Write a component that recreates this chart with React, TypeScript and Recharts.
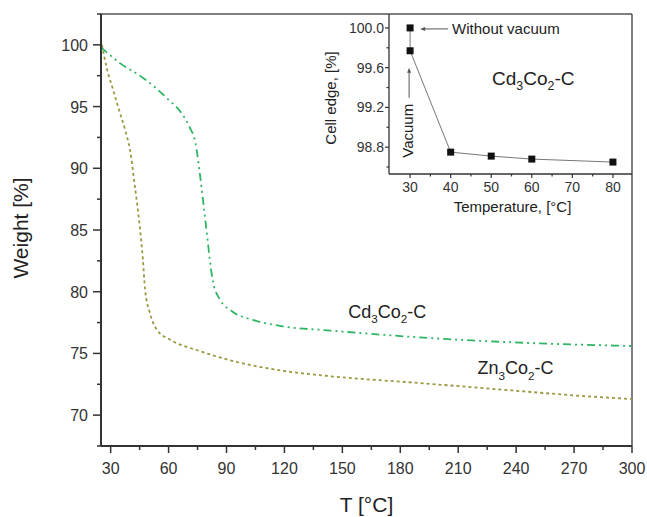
import React from 'react';
import { LineChart, Line, XAxis, YAxis, ReferenceLine, ReferenceDot } from 'recharts';

// Cd3Co2-C weight loss curve
const cdTemp = [25, 35, 47, 59, 67, 71, 74, 76, 78, 80, 81.5, 83, 86.5, 93, 104, 119, 144, 190, 238, 300];
const cdWeight = [99.8, 98.5, 97.3, 95.7, 94.4, 93.3, 92.0, 89.8, 87.2, 84.5, 82.4, 80.8, 79.4, 78.4, 77.7, 77.2, 76.85, 76.3, 75.9, 75.6];

// Zn3Co2-C weight loss curve
const znTemp = [25.5, 28, 31, 34, 37.5, 40, 42.5, 45, 46.7, 47.8, 50.3, 54, 61, 76, 93, 119, 144, 190, 238, 270, 300];
const znWeight = [100.0, 98.1, 96.5, 94.9, 93.1, 91.5, 88.6, 85.4, 82.6, 80.2, 78.3, 76.9, 76.1, 75.2, 74.4, 73.6, 73.15, 72.6, 72.0, 71.6, 71.3];

// inset: cell edge vs temperature
const insetTemp = [30, 30, 40, 50, 60, 80];
const insetEdge = [100.0, 99.77, 98.75, 98.71, 98.68, 98.65];

const xTicks = [30, 45, 60, 75, 90, 105, 120, 135, 150, 165, 180, 195, 210, 225, 240, 255, 270, 285, 300];
const yTicks = [67.5, 70, 72.5, 75, 77.5, 80, 82.5, 85, 87.5, 90, 92.5, 95, 97.5, 100, 102.5];
const insetXTicks = [30, 35, 40, 45, 50, 55, 60, 65, 70, 75, 80];
const insetYTicks = [98.6, 98.8, 99.0, 99.2, 99.4, 99.6, 99.8, 100.0];

const cdData = cdTemp.map((t, i) => ({ t, w: cdWeight[i] }));
const znData = znTemp.map((t, i) => ({ t, w: znWeight[i] }));
const insetData = insetTemp.map((t, i) => ({ t, v: insetEdge[i] }));

const FONT = '"Liberation Sans", Arial, sans-serif';
const INK = '#333';

const MainXTick = (props: any) => {
  const { x, y, payload } = props;
  const major = payload.value % 30 === 0;
  return (
    <g>
      <line x1={x} x2={x} y1={y} y2={y + (major ? 7 : 4)} stroke={INK} strokeWidth={1.5} />
      {major && (
        <text x={x} y={y + 28} textAnchor="middle" fontSize={16} fill={INK} fontFamily={FONT}>
          {payload.value}
        </text>
      )}
    </g>
  );
};

const MainYTick = (props: any) => {
  const { x, y, payload } = props;
  const major = payload.value % 5 === 0;
  return (
    <g>
      <line x1={x} x2={x - (major ? 8 : 4)} y1={y} y2={y} stroke={INK} strokeWidth={1.5} />
      {major && (
        <text x={x - 13} y={y + 6} textAnchor="end" fontSize={16} fill={INK} fontFamily={FONT}>
          {payload.value}
        </text>
      )}
    </g>
  );
};

const InsetXTick = (props: any) => {
  const { x, y, payload } = props;
  const major = payload.value % 10 === 0;
  return (
    <g>
      <line x1={x} x2={x} y1={y} y2={y + (major ? 4 : 2.5)} stroke={INK} strokeWidth={1.2} />
      {major && (
        <text x={x} y={y + 18} textAnchor="middle" fontSize={14} fill={INK} fontFamily={FONT}>
          {payload.value}
        </text>
      )}
    </g>
  );
};

const InsetYTick = (props: any) => {
  const { x, y, payload } = props;
  const major = Math.round(payload.value * 10) % 4 === 0;
  return (
    <g>
      <line x1={x} x2={x - (major ? 4 : 2.5)} y1={y} y2={y} stroke={INK} strokeWidth={1.2} />
      {major && (
        <text x={x - 5} y={y + 5} textAnchor="end" fontSize={14} fill={INK} fontFamily={FONT}>
          {payload.value.toFixed(1)}
        </text>
      )}
    </g>
  );
};

const Formula = ({ x, y, a, size }: { x: number; y: number; a: string; size: number }) => (
  <text x={x} y={y} fontSize={size} fill="#222" fontFamily={FONT}>
    {a}
    <tspan fontSize={size * 0.65} dy={size * 0.3}>3</tspan>
    <tspan dy={-size * 0.3}>Co</tspan>
    <tspan fontSize={size * 0.65} dy={size * 0.3}>2</tspan>
    <tspan dy={-size * 0.3}>-C</tspan>
  </text>
);

const SquareDot = (p: any) => (
  <rect key={`sq-${p.index}`} x={p.cx - 3.5} y={p.cy - 3.5} width={7} height={7} fill="#111" />
);

export default function App() {
  return (
    <div style={{ position: 'absolute', left: 0, top: 0, width: 647, height: 517, background: '#fff', fontFamily: FONT }}>
      <LineChart width={647} height={517} margin={{ top: 14, right: 15, left: 41, bottom: 41 }}>
        <XAxis
          dataKey="t"
          type="number"
          domain={[25, 300]}
          ticks={xTicks}
          interval={0}
          height={30}
          tickSize={0}
          tickMargin={0}
          tickLine={false}
          tick={<MainXTick />}
          axisLine={{ stroke: INK, strokeWidth: 2 }}
          label={{
            content: (p: any) => (
              <text
                x={p.viewBox.x + p.viewBox.width / 2}
                y={p.viewBox.y + 66}
                textAnchor="middle"
                fontSize={21}
                fill="#222"
                fontFamily={FONT}
              >
                T [°C]
              </text>
            ),
          }}
        />
        <YAxis
          type="number"
          domain={[67.5, 102.5]}
          ticks={yTicks}
          interval={0}
          width={60}
          tickSize={0}
          tickMargin={0}
          tickLine={false}
          tick={<MainYTick />}
          axisLine={{ stroke: INK, strokeWidth: 2 }}
          label={{
            content: (p: any) => {
              const cx = p.viewBox.x - 13;
              const cy = p.viewBox.y + p.viewBox.height / 2 - 2;
              return (
                <text
                  x={cx}
                  y={cy}
                  transform={`rotate(-90, ${cx}, ${cy})`}
                  textAnchor="middle"
                  fontSize={21}
                  fill="#222"
                  fontFamily={FONT}
                >
                  Weight [%]
                </text>
              );
            },
          }}
        />
        <ReferenceLine y={102.5} stroke="#555" strokeWidth={1.5} />
        <ReferenceLine x={300} stroke="#555" strokeWidth={1.5} />
        <Line
          data={znData}
          dataKey="w"
          type="monotone"
          stroke="#9a9840"
          strokeWidth={1.8}
          strokeDasharray="3 3"
          dot={false}
          isAnimationActive={false}
        />
        <Line
          data={cdData}
          dataKey="w"
          type="monotone"
          stroke="#2db563"
          strokeWidth={1.8}
          strokeDasharray="8 4 2 4 2 4"
          dot={false}
          isAnimationActive={false}
        />
        <ReferenceDot
          x={153}
          y={77.9}
          r={0}
          stroke="none"
          fill="none"
          label={{ content: (p: any) => <Formula x={p.viewBox.x} y={p.viewBox.y} a="Cd" size={18} /> }}
        />
        <ReferenceDot
          x={220}
          y={73.3}
          r={0}
          stroke="none"
          fill="none"
          label={{ content: (p: any) => <Formula x={p.viewBox.x} y={p.viewBox.y} a="Zn" size={18} /> }}
        />
      </LineChart>

      <div style={{ position: 'absolute', left: 300, top: 0 }}>
        <LineChart width={347} height={230} margin={{ top: 14, right: 15, left: 39, bottom: 26 }}>
          <XAxis
            dataKey="t"
            type="number"
            domain={[24.8, 84.7]}
            ticks={insetXTicks}
            interval={0}
            height={30}
            tickSize={0}
            tickMargin={0}
            tickLine={false}
            tick={<InsetXTick />}
            axisLine={{ stroke: INK, strokeWidth: 1.3 }}
            label={{
              content: (p: any) => (
                <text
                  x={p.viewBox.x + p.viewBox.width / 2 + 2}
                  y={p.viewBox.y + 38}
                  textAnchor="middle"
                  fontSize={15}
                  fill="#222"
                  fontFamily={FONT}
                >
                  Temperature, [°C]
                </text>
              ),
            }}
          />
          <YAxis
            type="number"
            domain={[98.53, 100.14]}
            ticks={insetYTicks}
            interval={0}
            width={50}
            tickSize={0}
            tickMargin={0}
            tickLine={false}
            tick={<InsetYTick />}
            axisLine={{ stroke: INK, strokeWidth: 1.3 }}
            label={{
              content: (p: any) => {
                const cx = p.viewBox.x - 3;
                const cy = p.viewBox.y + p.viewBox.height / 2 + 4;
                return (
                  <text
                    x={cx}
                    y={cy}
                    transform={`rotate(-90, ${cx}, ${cy})`}
                    textAnchor="middle"
                    fontSize={15}
                    fill="#222"
                    fontFamily={FONT}
                  >
                    Cell edge, [%]
                  </text>
                );
              },
            }}
          />
          <Line
            data={insetData}
            dataKey="v"
            type="linear"
            stroke="#777"
            strokeWidth={1}
            dot={SquareDot}
            isAnimationActive={false}
          />
          <ReferenceDot
            x={30}
            y={100.0}
            r={0}
            stroke="none"
            fill="none"
            label={{
              content: (p: any) => {
                const { x, y } = p.viewBox;
                return (
                  <g>
                    <line x1={x + 13} x2={x + 38} y1={y + 1} y2={y + 1} stroke="#555" strokeWidth={1} />
                    <polygon points={`${x + 10},${y + 1} ${x + 15},${y - 1} ${x + 15},${y + 3}`} fill="#555" />
                    <text x={x + 42} y={y + 6} fontSize={15} fill="#222" fontFamily={FONT}>
                      Without vacuum
                    </text>
                  </g>
                );
              },
            }}
          />
          <ReferenceDot
            x={30}
            y={99.77}
            r={0}
            stroke="none"
            fill="none"
            label={{
              content: (p: any) => {
                const { x, y } = p.viewBox;
                const tx = x + 3;
                const ty = y + 80;
                return (
                  <g>
                    <line x1={x - 1} x2={x - 1} y1={y + 20} y2={y + 47} stroke="#555" strokeWidth={1} />
                    <polygon points={`${x - 1},${y + 17} ${x - 3},${y + 22} ${x + 1},${y + 22}`} fill="#555" />
                    <text
                      x={tx}
                      y={ty}
                      transform={`rotate(-90, ${tx}, ${ty})`}
                      textAnchor="middle"
                      fontSize={15}
                      fill="#222"
                      fontFamily={FONT}
                    >
                      Vacuum
                    </text>
                  </g>
                );
              },
            }}
          />
          <ReferenceDot
            x={50.2}
            y={99.43}
            r={0}
            stroke="none"
            fill="none"
            label={{ content: (p: any) => <Formula x={p.viewBox.x} y={p.viewBox.y} a="Cd" size={19} /> }}
          />
        </LineChart>
      </div>
    </div>
  );
}
